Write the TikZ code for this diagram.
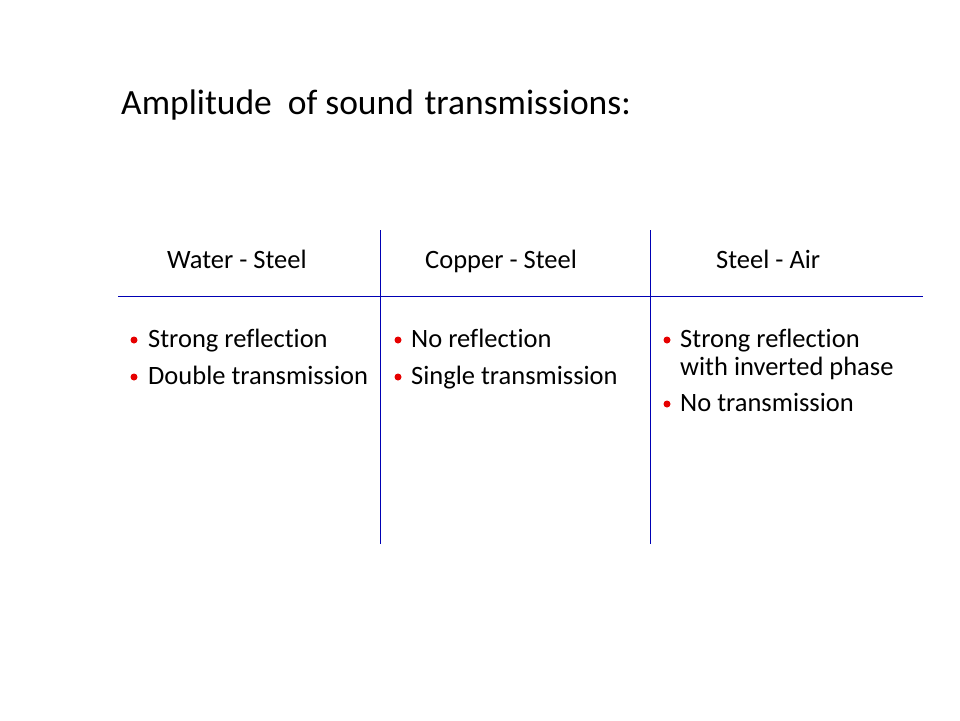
\documentclass[tikz,border=0pt]{standalone}
\usepackage{fontspec}
\setmainfont[Ligatures=NoCommon]{Carlito}
\definecolor{rulecol}{RGB}{0,0,180}
\definecolor{bulred}{RGB}{230,0,0}
\begin{document}
\begin{tikzpicture}[x=1pt,y=-1pt,
  title/.style={anchor=base west,inner sep=0pt,font=\fontsize{35.5}{42}\selectfont},
  head/.style={anchor=base west,inner sep=0pt,font=\fontsize{26.5}{32}\selectfont},
  item/.style={anchor=base west,inner sep=0pt,font=\fontsize{26.5}{32}\selectfont,align=left},
  dot/.style={circle,fill=bulred,inner sep=0pt,minimum size=7pt},
  rule/.style={draw=rulecol,line width=0.9pt}]
\useasboundingbox (0,0) rectangle (960,720);
\node[title] (t) at (121,114) {Amplitude\hspace{0.45em}of sound\hspace{0.3em}transmissions:};
\node[head] (h1) at (167,268) {Water - Steel};
\node[head] (h2) at (425,268) {Copper - Steel};
\node[head] (h3) at (716,268) {Steel - Air};
\coordinate (hl) at (118,296);
\coordinate (hr) at (923,296);
\coordinate (v1t) at (380,230);
\coordinate (v1b) at (380,544);
\coordinate (v2t) at (650,230);
\coordinate (v2b) at (650,544);
\draw[rule] (hl) -- (hr);
\draw[rule] (v1t) -- (v1b);
\draw[rule] (v2t) -- (v2b);
% column 1
\node[dot] (d11) at (134,340) {};
\node[item] (i11) at (148,347) {Strong reflection};
\node[dot] (d12) at (134,377) {};
\node[item] (i12) at (148,384) {Double transmission};
% column 2
\node[dot] (d21) at (398,340) {};
\node[item] (i21) at (411,347) {No reflection};
\node[dot] (d22) at (398,377) {};
\node[item] (i22) at (411,384) {Single transmission};
% column 3
\node[dot] (d31) at (667,340) {};
\node[item] (i31) at (680,347) {Strong reflection};
\node[item] (i32) at (680,375) {with inverted phase};
\node[dot] (d32) at (667,404) {};
\node[item] (i33) at (680,411) {No transmission};
\end{tikzpicture}
\end{document}
